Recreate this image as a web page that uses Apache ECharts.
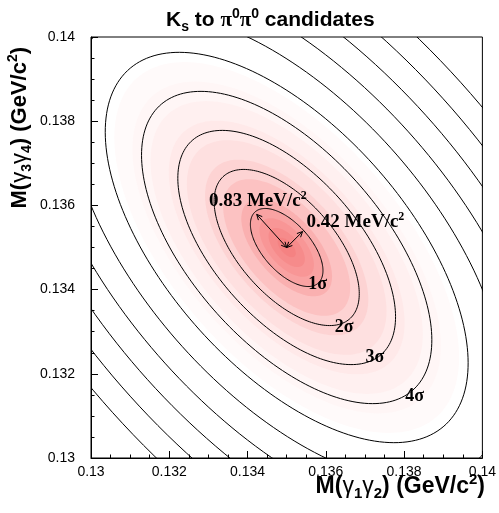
<!DOCTYPE html>
<html>
<head>
<meta charset="utf-8">
<script src="https://cdn.jsdelivr.net/npm/echarts@6/dist/echarts.min.js"></script>
<style>
    html, body { margin: 0; padding: 0; background: #fff; }
    #main { width: 499px; height: 513px; }
</style>
</head>
<body>
<div id="main"></div>
<script>
// 拟合中心和 1σ 椭圆 (GeV/c^2)
var centre = [0.135, 0.135];
var semiMajor = 0.00117;
var semiMinor = 0.000592;
var tiltDeg = 135;

// 等高线 1σ ... 10σ
var contourLevels = [1, 2, 3, 4, 5, 6, 7, 8, 9, 10];

// 点云的密度带 (从外到内)
var cloudSigma = [4.75, 4.25, 3.75, 3.25, 2.75, 2.25, 1.75, 1.25, 1.0, 0.75, 0.5, 0.25];
var cloudColor = ['#fffafa', '#fff6f6', '#fff0f0', '#ffe9e9', '#fee0e0', '#fdd3d3',
                  '#fcc2c2', '#fab0b0', '#f9a2a2', '#f89696', '#f68b8b', '#f58282'];

// σ 标注
var sigmaText = ['1σ', '2σ', '3σ', '4σ'];
var sigmaX = [0.135792, 0.136467, 0.137254, 0.138269];
var sigmaY = [0.134128, 0.133111, 0.132382, 0.131474];

// 箭头
var arrowToX = [0.134234, 0.135406];
var arrowToY = [0.135787, 0.135379];
var arrowText = ['0.83 MeV/c', '0.42 MeV/c'];
var arrowTextX = [0.133013, 0.135508];
var arrowTextY = [0.136102, 0.135611];

var axisMin = 0.13, axisMax = 0.14, axisStep = 0.002;

function ellipsePoints(api, n) {
    var t = tiltDeg * Math.PI / 180, pts = [];
    for (var k = 0; k <= 200; k++) {
        var p = 2 * Math.PI * k / 200;
        var u = semiMajor * n * Math.cos(p), v = semiMinor * n * Math.sin(p);
        pts.push(api.coord([centre[0] + u * Math.cos(t) - v * Math.sin(t),
                            centre[1] + u * Math.sin(t) + v * Math.cos(t)]));
    }
    return pts;
}

function arrowHead(tip, from) {
    var ang = Math.atan2(from[1] - tip[1], from[0] - tip[0]), len = 6, spread = 0.45;
    return [
        [tip[0] + len * Math.cos(ang + spread), tip[1] + len * Math.sin(ang + spread)],
        tip,
        [tip[0] + len * Math.cos(ang - spread), tip[1] + len * Math.sin(ang - spread)]
    ];
}

var sansBold = { fontFamily: 'Liberation Sans', fontWeight: 'bold', color: '#000' };
function rich(size) {
    return {
        a: Object.assign({ fontSize: size, lineHeight: size + 6 }, sansBold),
        g: { fontFamily: 'Liberation Sans', fontSize: size, lineHeight: size + 6, color: '#000' },
        s: Object.assign({ fontSize: Math.round(size * 0.65), lineHeight: Math.round(size * 0.65), verticalAlign: 'bottom' }, sansBold),
        u: Object.assign({ fontSize: Math.round(size * 0.65), lineHeight: Math.round(size * 0.65), verticalAlign: 'top' }, sansBold),
        p: { fontFamily: 'Liberation Serif', fontSize: size, lineHeight: size + 6, color: '#000' }
    };
}

var chart = echarts.init(document.getElementById('main'));

var axisCommon = {
    type: 'value',
    min: axisMin,
    max: axisMax,
    interval: axisStep,
    axisLine: { show: true, lineStyle: { color: '#000', width: 1 } },
    axisTick: { show: true, inside: true, length: 7, lineStyle: { color: '#000' } },
    minorTick: { show: true, splitNumber: 4, length: 3.5, lineStyle: { color: '#000' } },
    splitLine: { show: false },
    axisLabel: {
        color: '#000',
        fontFamily: 'Liberation Sans',
        fontSize: 14,
        formatter: function (v) { return String(+v.toFixed(3)); }
    }
};

var option = {
    animation: false,
    backgroundColor: '#fff',
    title: {
        text: '{a|K}{s|s}{a| to }{p|π}{u|0}{p|π}{u|0}{a| candidates}',
        left: 161,
        top: 2,
        textStyle: { rich: rich(21) }
    },
    grid: { left: 91, right: 14, top: 37, bottom: 55, show: true, borderColor: '#000', borderWidth: 1 },
    xAxis: Object.assign({}, axisCommon, {
        axisLabel: Object.assign({}, axisCommon.axisLabel, { margin: 7 })
    }),
    yAxis: Object.assign({}, axisCommon, {
        axisLabel: Object.assign({}, axisCommon.axisLabel, { margin: 16 })
    }),
    graphic: [
        {
            type: 'text', x: 485, y: 487,
            style: {
                text: '{a|M(}{g|γ}{s|1}{g|γ}{s|2}{a|) (GeV/c}{u|2}{a|)}',
                align: 'right', verticalAlign: 'middle', rich: rich(23)
            }
        },
        {
            type: 'text', x: 20, y: 47, rotation: Math.PI / 2,
            style: {
                text: '{a|M(}{g|γ}{s|3}{g|γ}{s|4}{a|) (GeV/c}{u|2}{a|)}',
                align: 'right', verticalAlign: 'middle', rich: rich(22)
            }
        }
    ],
    series: [
        {
            name: 'cloud',
            type: 'custom',
            clip: true,
            silent: true,
            data: cloudSigma.map(function (s) { return [centre[0], centre[1], s]; }),
            renderItem: function (params, api) {
                return {
                    type: 'polygon',
                    shape: { points: ellipsePoints(api, api.value(2)) },
                    style: { fill: cloudColor[params.dataIndex], stroke: null }
                };
            }
        },
        {
            name: 'contours',
            type: 'custom',
            clip: true,
            silent: true,
            data: contourLevels.map(function (n) { return [centre[0], centre[1], n]; }),
            renderItem: function (params, api) {
                return {
                    type: 'polyline',
                    shape: { points: ellipsePoints(api, api.value(2)) },
                    style: { fill: null, stroke: '#000', lineWidth: 1 }
                };
            }
        },
        {
            name: 'arrows',
            type: 'custom',
            clip: true,
            silent: true,
            data: arrowToX.map(function (x, i) { return [centre[0], centre[1], x, arrowToY[i]]; }),
            renderItem: function (params, api) {
                var a = api.coord([api.value(0), api.value(1)]);
                var b = api.coord([api.value(2), api.value(3)]);
                var st = { fill: null, stroke: '#000', lineWidth: 1 };
                return {
                    type: 'group',
                    children: [
                        { type: 'line', shape: { x1: a[0], y1: a[1], x2: b[0], y2: b[1] }, style: st },
                        { type: 'polyline', shape: { points: arrowHead(a, b) }, style: st },
                        { type: 'polyline', shape: { points: arrowHead(b, a) }, style: st }
                    ]
                };
            }
        },
        {
            name: 'sigma',
            type: 'custom',
            silent: true,
            data: sigmaX.map(function (x, i) { return [x, sigmaY[i]]; }),
            renderItem: function (params, api) {
                var p = api.coord([api.value(0), api.value(1)]);
                return {
                    type: 'text', x: p[0], y: p[1],
                    style: {
                        text: sigmaText[params.dataIndex],
                        font: 'bold 18px "Liberation Serif"',
                        fill: '#000', align: 'center', verticalAlign: 'middle'
                    }
                };
            }
        },
        {
            name: 'widths',
            type: 'custom',
            silent: true,
            data: arrowTextX.map(function (x, i) { return [x, arrowTextY[i]]; }),
            renderItem: function (params, api) {
                var p = api.coord([api.value(0), api.value(1)]);
                return {
                    type: 'text', x: p[0], y: p[1],
                    style: {
                        text: '{t|' + arrowText[params.dataIndex] + '}{u|2}',
                        align: 'left', verticalAlign: 'middle',
                        rich: {
                            t: { fontFamily: 'Liberation Serif', fontWeight: 'bold', fontSize: 19, lineHeight: 22, fill: '#000' },
                            u: { fontFamily: 'Liberation Serif', fontWeight: 'bold', fontSize: 12, lineHeight: 12, verticalAlign: 'top', fill: '#000' }
                        }
                    }
                };
            }
        }
    ]
};

chart.setOption(option);
</script>
</body>
</html>
